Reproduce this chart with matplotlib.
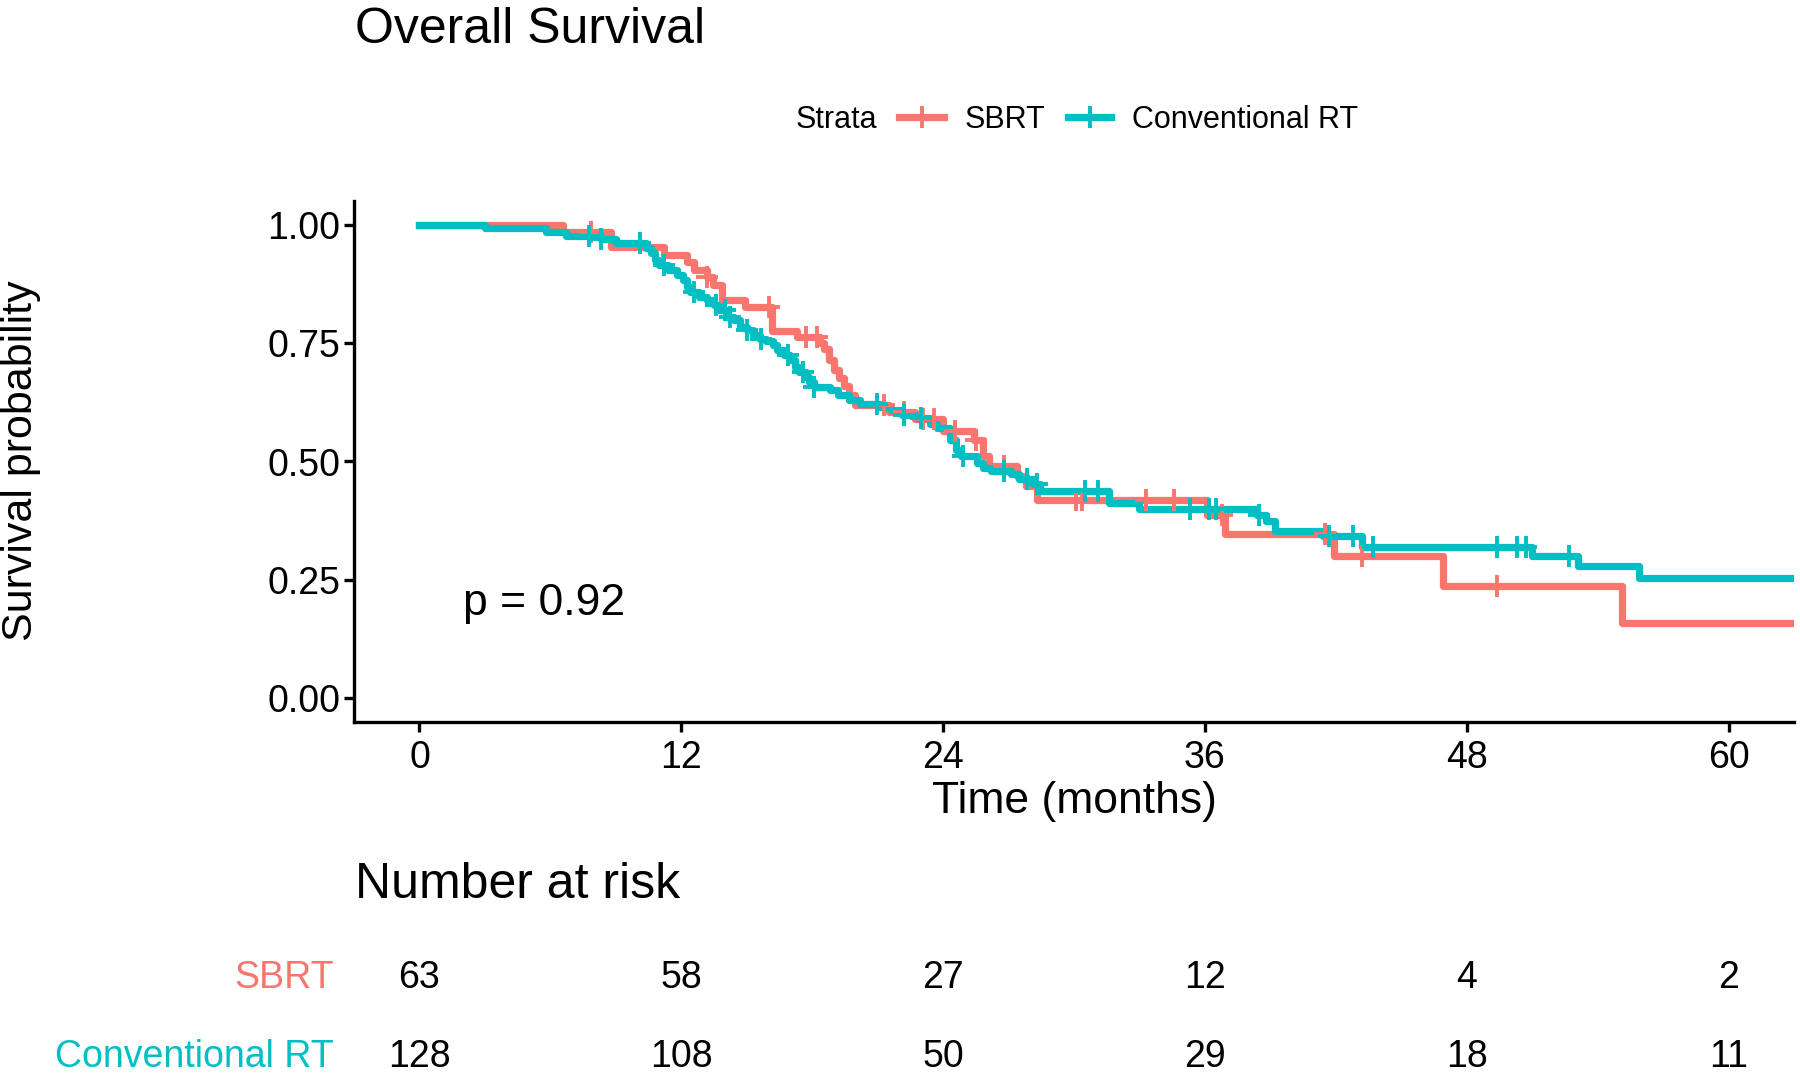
import numpy as np
import matplotlib
matplotlib.use("Agg")
import matplotlib.pyplot as plt
from matplotlib.lines import Line2D
from matplotlib.transforms import blended_transform_factory

plt.rcParams['font.family'] = ['Liberation Sans', 'DejaVu Sans']

# SBRT Kaplan-Meier steps (time in months, survival after the step)
sbrt_t = [0, 6.6, 8.8, 11.2, 12.25, 12.6, 13.2, 13.45, 13.87, 14.94, 16.16, 17.3,
          18.37, 18.52, 18.75, 18.98, 19.21, 19.44, 19.67, 19.97, 21.5, 22.7, 24.0,
          25.4, 25.85, 26.1, 27.4, 27.8, 28.3, 36.1, 36.9, 41.9, 46.9, 55.1, 64.0]
sbrt_s = [1.0, 0.984, 0.953, 0.937, 0.921, 0.905, 0.889, 0.873, 0.842, 0.826, 0.776, 0.762,
          0.750, 0.737, 0.715, 0.694, 0.676, 0.659, 0.641, 0.620, 0.605, 0.589, 0.565,
          0.546, 0.511, 0.490, 0.469, 0.448, 0.418, 0.388, 0.346, 0.300, 0.237, 0.160, 0.160]
sbrt_cens = [7.85, 13.2, 16.0, 17.7, 18.2, 21.3, 22.2, 23.1, 23.6, 24.55, 25.5, 26.8,
             30.1, 30.35, 33.3, 34.6, 36.8, 41.5, 43.2, 49.4]

# Conventional RT Kaplan-Meier steps
conv_t = [0, 3.0, 5.8, 6.7, 8.3, 9.0, 10.4, 10.6, 10.8, 11.0, 11.4, 11.8, 12.1, 12.25,
          12.4, 12.8, 13.2, 13.5, 13.7, 14.1, 14.4, 14.7, 15.0, 15.3, 15.6, 15.9, 16.2,
          16.4, 16.7, 17.0, 17.2, 17.4, 17.7, 17.85, 18.1, 18.8, 19.2, 19.7, 20.2, 21.1,
          21.6, 22.1, 22.7, 23.4, 23.7, 24.3, 24.6, 24.8, 25.55, 25.85, 26.2, 27.1, 27.5,
          28.1, 28.45, 31.6, 33.0, 38.4, 38.8, 39.2, 41.4, 43.2, 51.0, 53.1, 55.9, 64.0]
conv_s = [1.0, 0.992, 0.984, 0.977, 0.969, 0.961, 0.950, 0.940, 0.926, 0.914, 0.904, 0.893,
          0.883, 0.869, 0.858, 0.847, 0.840, 0.830, 0.819, 0.806, 0.798, 0.785, 0.777, 0.767,
          0.759, 0.754, 0.745, 0.735, 0.724, 0.714, 0.700, 0.690, 0.679, 0.668, 0.658, 0.650,
          0.640, 0.630, 0.622, 0.615, 0.608, 0.599, 0.591, 0.580, 0.570, 0.545, 0.525, 0.511,
          0.497, 0.487, 0.480, 0.473, 0.462, 0.452, 0.437, 0.412, 0.400, 0.387, 0.374, 0.354,
          0.343, 0.320, 0.300, 0.279, 0.254, 0.254]
conv_cens = [7.77, 8.3, 10.13, 11.2, 12.6, 13.6, 14.0, 14.25, 15.0, 15.65, 16.9, 17.6,
             18.1, 20.97, 22.2, 23.0, 24.9, 26.8, 27.85, 28.3, 30.5, 31.1, 35.3, 36.2,
             36.5, 38.5, 41.7, 42.8, 43.7, 49.4, 50.3, 50.7, 52.7]

risk_times = [0, 12, 24, 36, 48, 60]
risk_sbrt = [63, 58, 27, 12, 4, 2]
risk_conv = [128, 108, 50, 29, 18, 11]

red = '#F8766D'
cyan = '#00BFC4'
W, H = 1800, 1073

def surv_at(ts, ss, t):
    i = np.searchsorted(ts, t, side='right') - 1
    return np.asarray(ss)[i]

fig = plt.figure(figsize=(18, 10.73), dpi=100)
ax = fig.add_axes([354 / W, 1 - 722 / H, 1440 / W, 521 / H])

lw = 5.2
for ts, ss, cens, col in [(sbrt_t, sbrt_s, sbrt_cens, red), (conv_t, conv_s, conv_cens, cyan)]:
    ax.step(ts, ss, where='post', color=col, lw=lw)
for ts, ss, cens, col in [(sbrt_t, sbrt_s, sbrt_cens, red), (conv_t, conv_s, conv_cens, cyan)]:
    ax.plot(cens, surv_at(ts, ss, cens), ls='none', marker='+', ms=16, mew=2.8, color=col)

ax.set_xlim(-3, 63)
ax.set_ylim(-0.05, 1.05)
ax.set_xticks(risk_times)
ax.set_yticks([0, 0.25, 0.5, 0.75, 1.0])
ax.set_yticklabels(['0.00', '0.25', '0.50', '0.75', '1.00'])
for s in ['top', 'right']:
    ax.spines[s].set_visible(False)
for s in ['left', 'bottom']:
    ax.spines[s].set_linewidth(2.4)
ax.tick_params(axis='both', length=7, width=2.4, labelsize=27, colors='black')
ax.tick_params(axis='y', pad=3)
ax.tick_params(axis='x', pad=6)

ax.text(2.0, 0.2, 'p = 0.92', fontsize=32, ha='left', va='center')

fig.text(1074 / W, 1 - 813 / H, 'Time (months)', fontsize=32, ha='center', va='baseline')
fig.text(21 / W, 1 - 461 / H, 'Survival probability', fontsize=31, rotation=90,
         ha='center', va='center')
fig.text(355 / W, 1 - 43 / H, 'Overall Survival', fontsize=36, ha='left', va='baseline')

# legend drawn across the top
ly = 1 - 117 / H
fig.text(796 / W, 1 - 128 / H, 'Strata', fontsize=22, ha='left', va='baseline')
for x0, x1, col, lab, tx in [(899, 944, red, 'SBRT', 965), (1068, 1111, cyan, 'Conventional RT', 1132)]:
    fig.add_artist(Line2D([x0 / W, x1 / W], [ly, ly], color=col, lw=lw))
    fig.add_artist(Line2D([(x0 + x1) / 2 / W], [ly], color=col, marker='+', ms=16, mew=2.8))
    fig.text(tx / W, 1 - 128 / H, lab, fontsize=22, ha='left', va='baseline')

# risk table
fig.text(355 / W, 1 - 898 / H, 'Number at risk', fontsize=36, ha='left', va='baseline')
tr = blended_transform_factory(ax.transData, fig.transFigure)
for vals, col, lab, base in [(risk_sbrt, red, 'SBRT', 988), (risk_conv, cyan, 'Conventional RT', 1067)]:
    for t, v in zip(risk_times, vals):
        ax.text(t, 1 - base / H, str(v), transform=tr, fontsize=27, ha='center',
                va='baseline', clip_on=False)
    fig.text(334 / W, 1 - base / H, lab, fontsize=27, color=col, ha='right', va='baseline')

fig.savefig('out.png', dpi=100, facecolor='white')
